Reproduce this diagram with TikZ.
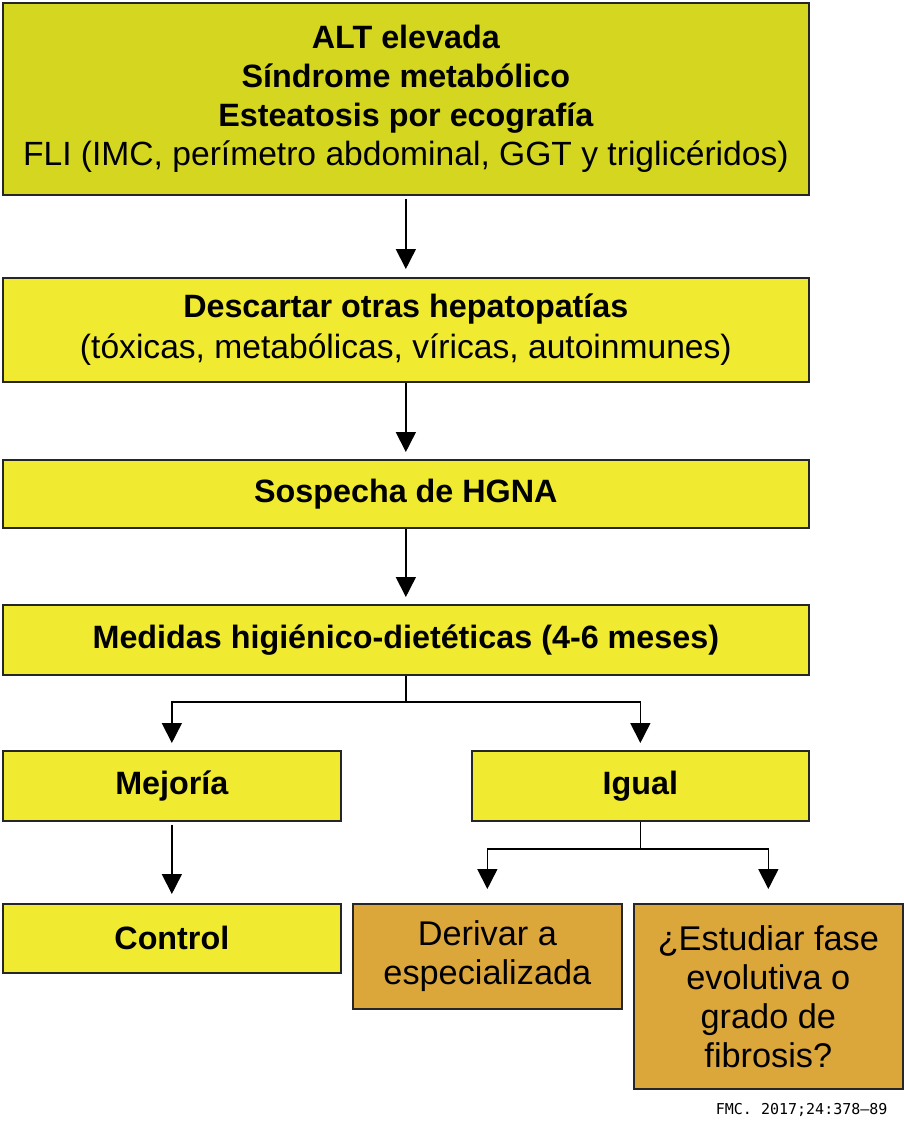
\documentclass[tikz,border=0pt]{standalone}
\usepackage{fontspec}
\setmainfont{Liberation Sans}
\newfontfamily\srcfont{DejaVu Sans Mono}
\usetikzlibrary{arrows.meta,calc}

\definecolor{olivebox}{RGB}{212,214,32}
\definecolor{yellowbox}{RGB}{240,234,48}
\definecolor{orangebox}{RGB}{219,166,58}

% bold heading lines are set a little narrower
\newcommand{\hd}[1]{{\fontsize{32.3}{39}\selectfont\bfseries #1}}

\tikzset{
  box/.style={draw=black!85, line width=1.7pt, align=center, inner sep=0pt,
    anchor=north west, font=\fontsize{33.6}{39}\selectfont},
  obox/.style={box, fill=orangebox, font=\fontsize{34.3}{39}\selectfont},
  arr/.style={line width=1.6pt, -{Triangle[width=20pt,length=20pt]}},
  ln/.style={line width=1.6pt},
}

\begin{document}
\begin{tikzpicture}[x=1pt, y=-1pt]
\useasboundingbox (0,0) rectangle (904,1132);

% Main column
\node[box, fill=olivebox, minimum width=806pt, minimum height=192pt] (alt) at (2,2)
  {\hd{ALT elevada}\\ \hd{Síndrome metabólico}\\ \hd{Esteatosis por ecografía}\\
   FLI (IMC, perímetro abdominal, GGT y triglicéridos)};
\node[box, fill=yellowbox, minimum width=806pt, minimum height=104pt] (descartar) at (2,277)
  {\hd{Descartar otras hepatopatías}\\[2pt] (tóxicas, metabólicas, víricas, autoinmunes)};
\node[box, fill=yellowbox, minimum width=806pt, minimum height=68pt] (sospecha) at (2,459)
  {\hd{Sospecha de HGNA}};
\node[box, fill=yellowbox, minimum width=806pt, minimum height=70pt] (medidas) at (2,604)
  {\hd{Medidas higiénico-dietéticas (4-6 meses)}};

% Second level
\node[box, fill=yellowbox, minimum width=338pt, minimum height=70pt] (mejoria) at (2,750)
  {\hd{Mejoría}};
\node[box, fill=yellowbox, minimum width=337pt, minimum height=70pt] (igual) at (471,750)
  {\hd{Igual}};

% Third level
\node[box, fill=yellowbox, minimum width=338pt, minimum height=69pt] (control) at (2,903)
  {\hd{Control}};
\node[obox, minimum width=269pt, minimum height=105pt] (derivar) at (352,903)
  {Derivar a\\ especializada};
\node[obox, minimum width=269pt, minimum height=185pt] (estudiar) at (633,903)
  {¿Estudiar fase\\ evolutiva o\\ grado de\\ fibrosis?};

% Arrows
\draw[arr, shorten <=3pt, shorten >=8pt] (alt) -- (descartar);
\draw[arr, shorten >=7pt] (descartar) -- (sospecha);
\draw[arr, shorten >=7pt] (sospecha) -- (medidas);

% Split after medidas
\draw[ln] (medidas.south) -- ++(0,26) coordinate (splitA);
\draw[arr, shorten >=7pt] (splitA) -| (mejoria);
\draw[arr, shorten >=7pt] (splitA) -| (igual);

\draw[arr, shorten <=3pt, shorten >=9pt] (mejoria) -- (control);

% Split after igual
\draw[ln] (igual.south) -- ++(0,27) coordinate (splitB);
\draw[arr, shorten >=14pt] (splitB) -| (derivar);
\draw[arr, shorten >=14pt] (splitB) -| (estudiar);

% Source
\node[anchor=east, font=\srcfont\fontsize{15}{18}\selectfont] (src) at (891,1110)
  {FMC. 2017;24:378–89};

\end{tikzpicture}
\end{document}
